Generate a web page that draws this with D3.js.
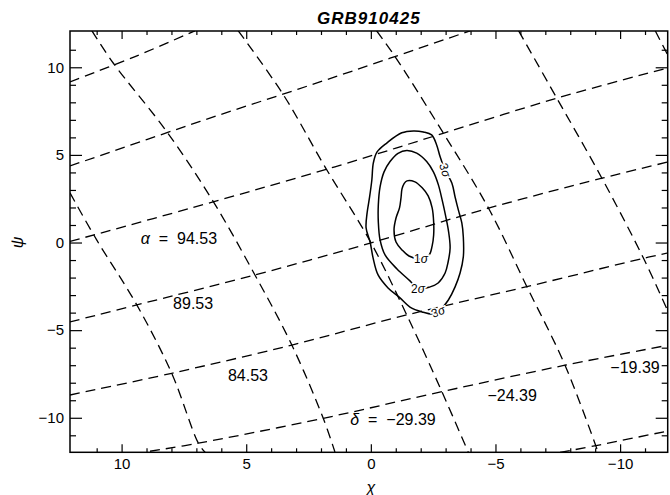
<!DOCTYPE html>
<html>
<head>
<meta charset="utf-8">
<script src="https://cdn.jsdelivr.net/npm/d3@7"></script>
<style>
body { margin: 0; background: #fff; }
svg text { font-family: "Liberation Sans", Arial, sans-serif; fill: #000; }
</style>
</head>
<body>
<svg id="chart"></svg>
<script>
const width = 670;
const height = 495;
const plotLeft = 70;
const plotRight = 667.7;
const plotTop = 31;
const plotBottom = 452.3;

// axes (chi runs right to left)
const chiDomain = [12.07, -11.91];
const psiDomain = [-11.97, 12.07];
const xTicks = [10, 5, 0, -5, -10];
const xTickLabels = ["10", "5", "0", "\u22125", "\u221210"];
const yTicks = [10, 5, 0, -5, -10];
const yTickLabels = ["10", "5", "0", "\u22125", "\u221210"];

// lines of constant right ascension, points as [chi, psi]
const alphaValues = [104.53, 99.53, 94.53, 89.53, 84.53, 79.53, 74.53];
const alphaLines = [
  [[12.07, 9.17], [9.46, 10.61], [7.06, 12.08]],
  [[12.07, 4.37], [6.85, 6.91], [1.44, 9.45], [-3.98, 12.08]],
  [[12.07, 0.06], [6.33, 2.32], [1.44, 4.32], [-2.9, 6.23], [-7.47, 8.24], [-11.93, 9.97]],
  [[12.07, -4.53], [9.39, -3.56], [4.65, -1.85], [-0.01, -0.02], [-4.72, 1.96], [-9.27, 3.67], [-11.93, 4.6]],
  [[12.07, -8.7], [7.99, -7.46], [3.17, -5.85], [-1.44, -4.13], [-6.26, -2.52], [-10.94, -0.9], [-11.93, -0.59]],
  [[8.86, -11.91], [6.92, -11.45], [1.91, -10.03], [-2.85, -8.51], [-7.79, -7.0], [-11.93, -5.86]],
  [[-7.59, -11.98], [-9.2, -11.54], [-11.93, -10.75]]
];

// lines of constant declination
const deltaValues = [-39.39, -34.39, -29.39, -24.39, -19.39, -14.39];
const deltaLines = [
  [[12.07, 2.83], [11.0, 0.15], [9.39, -3.56], [7.99, -7.46], [6.92, -11.45], [6.65, -11.97]],
  [[11.19, 12.08], [10.33, 10.23], [8.19, 6.33], [6.32, 2.33], [4.65, -1.85], [3.17, -5.85], [1.91, -10.03], [1.44, -11.95]],
  [[5.32, 12.08], [3.51, 8.43], [1.84, 4.32], [-0.01, -0.02], [-1.44, -4.13], [-2.85, -8.51], [-3.91, -11.97]],
  [[-0.23, 12.08], [-0.97, 10.61], [-2.91, 6.24], [-4.72, 1.96], [-6.26, -2.52], [-7.79, -7.0], [-9.12, -11.97]],
  [[-5.93, 12.08], [-7.46, 8.24], [-9.27, 3.67], [-10.94, -0.9], [-11.93, -3.96]],
  [[-11.41, 12.08], [-11.93, 10.65]]
];

// grid labels and where they sit, in chi/psi
const alphaLabels = ["94.53", "89.53", "84.53"];
const alphaLabelAt = [[7.7, 0.26], [7.13, -3.45], [4.93, -7.56]];
const deltaLabels = ["\u221229.39", "\u221224.39", "\u221219.39"];
const deltaLabelAt = [[-0.89, -10.12], [-5.67, -8.7], [-10.6, -7.15]];

// confidence contours
const sigmaNames = ["1", "2", "3"];
const sigma1 = [
  [-1.45, 3.52], [-1.77, 3.46], [-2.06, 3.12], [-2.3, 2.66], [-2.46, 1.98], [-2.52, 1.18],
  [-2.52, 0.43], [-2.46, -0.19], [-2.34, -0.71], [-2.01, -0.94], [-1.53, -0.77], [-1.25, -0.42],
  [-1.01, 0.03], [-0.93, 0.72], [-1.01, 1.4], [-1.15, 1.98], [-1.21, 2.55], [-1.25, 3.06], [-1.33, 3.35]
];
const sigma2 = [
  [-1.44, 5.25], [-1.84, 5.1], [-2.24, 4.62], [-2.51, 4.03], [-2.71, 3.29], [-2.86, 2.43],
  [-3.0, 1.52], [-3.12, 0.61], [-3.18, -0.31], [-3.1, -1.11], [-2.98, -1.74], [-2.7, -2.31],
  [-2.38, -2.53], [-1.89, -2.65], [-1.57, -2.19], [-1.05, -1.51], [-0.57, -0.71], [-0.37, 0.15],
  [-0.3, 1.18], [-0.3, 2.15], [-0.37, 3.17], [-0.53, 4.03], [-0.77, 4.62], [-1.09, 5.09]
];
const sigma3 = [
  [-2.5, -4.08], [-2.06, -3.96], [-1.57, -3.68], [-1.17, -3.16], [-0.69, -2.59], [-0.29, -1.85],
  [-0.09, -0.88], [0.03, 0.03], [0.19, 0.83], [0.15, 1.69], [0.05, 2.6], [-0.04, 3.57],
  [-0.1, 4.54], [-0.25, 5.17], [-0.65, 5.69], [-1.24, 6.26], [-1.71, 6.37], [-2.11, 6.31],
  [-2.44, 6.14], [-2.64, 5.57], [-2.78, 4.89], [-2.98, 4.13], [-3.25, 3.4], [-3.38, 2.6],
  [-3.51, 1.86], [-3.65, 1.12], [-3.71, 0.32], [-3.71, -0.82], [-3.58, -1.74], [-3.38, -2.53],
  [-3.11, -3.28], [-2.86, -3.73], [-2.7, -3.93]
];
const contours = [sigma1, sigma2, sigma3];
// which contour point carries a label
const contourLabels = [
  { level: 0, point: 9, angle: 0 },
  { level: 1, point: 13, angle: 0 },
  { level: 2, point: 21, angle: 72 },
  { level: 2, point: 32, angle: -22 }
];

let svg = d3.select("#chart").attr("width", width).attr("height", height);

const x = d3.scaleLinear().domain(chiDomain).range([plotLeft, plotRight]);
const y = d3.scaleLinear().domain(psiDomain).range([plotBottom, plotTop]);

svg.append("defs")
  .append("clipPath")
  .attr("id", "plot-clip")
  .append("rect")
  .attr("x", plotLeft)
  .attr("y", plotTop)
  .attr("width", plotRight - plotLeft)
  .attr("height", plotBottom - plotTop);

const gridLine = d3.line()
  .x(d => x(d[0]))
  .y(d => y(d[1]))
  .curve(d3.curveCatmullRom.alpha(0.5));

let grid = svg.append("g").attr("clip-path", "url(#plot-clip)");
grid.selectAll(".alpha")
  .data(alphaLines)
  .enter()
  .append("path")
  .classed("alpha", true)
  .attr("d", gridLine);
grid.selectAll(".delta")
  .data(deltaLines)
  .enter()
  .append("path")
  .classed("delta", true)
  .attr("d", gridLine);
grid.selectAll("path")
  .attr("fill", "none")
  .attr("stroke", "#000")
  .attr("stroke-width", 1.3)
  .attr("stroke-dasharray", "10,6");

// contours
const ringLine = d3.line()
  .x(d => x(d[0]))
  .y(d => y(d[1]))
  .curve(d3.curveCatmullRomClosed.alpha(0.5));

svg.append("g")
  .selectAll("path")
  .data(contours)
  .enter()
  .append("path")
  .attr("d", ringLine)
  .attr("fill", "none")
  .attr("stroke", "#000")
  .attr("stroke-width", 1.5);

let sigmaText = svg.append("g")
  .selectAll("text")
  .data(contourLabels)
  .enter()
  .append("text")
  .attr("transform", d => {
    let p = contours[d.level][d.point];
    return `translate(${x(p[0])},${y(p[1])}) rotate(${d.angle})`;
  })
  .attr("text-anchor", "middle")
  .attr("dy", "0.35em")
  .attr("font-size", 12)
  .style("stroke", "#fff")
  .style("stroke-width", 3)
  .style("paint-order", "stroke")
  .style("fill", "#000");
sigmaText.append("tspan").text(d => sigmaNames[d.level]);
sigmaText.append("tspan").attr("font-style", "italic").text("\u03c3");

// grid value labels
let alphaText = svg.append("g")
  .selectAll("text")
  .data(alphaLabels)
  .enter()
  .append("text")
  .attr("x", (d, i) => x(alphaLabelAt[i][0]))
  .attr("y", (d, i) => y(alphaLabelAt[i][1]))
  .attr("text-anchor", "middle")
  .attr("dy", "0.35em")
  .attr("font-size", 16)
  .style("white-space", "pre");
alphaText.filter((d, i) => i === 0)
  .append("tspan")
  .attr("font-style", "italic")
  .text("\u03b1");
alphaText.filter((d, i) => i === 0)
  .append("tspan")
  .text("  =  ");
alphaText.append("tspan").text(d => d);

let deltaText = svg.append("g")
  .selectAll("text")
  .data(deltaLabels)
  .enter()
  .append("text")
  .attr("x", (d, i) => x(deltaLabelAt[i][0]))
  .attr("y", (d, i) => y(deltaLabelAt[i][1]))
  .attr("text-anchor", "middle")
  .attr("dy", "0.35em")
  .attr("font-size", 16)
  .style("white-space", "pre");
deltaText.filter((d, i) => i === 0)
  .append("tspan")
  .attr("font-style", "italic")
  .text("\u03b4");
deltaText.filter((d, i) => i === 0)
  .append("tspan")
  .text("  =  ");
deltaText.append("tspan").text(d => d);

// axes, ticks pointing inward
const minorTicks = d3.range(-11, 12).filter(v => v % 5 !== 0);

function styleAxis(g) {
  g.select(".domain").remove();
  g.selectAll("line").attr("stroke", "#000").attr("stroke-width", 1.2);
  g.selectAll("text")
    .attr("font-size", 15)
    .attr("font-family", '"Liberation Sans", Arial, sans-serif');
}

svg.append("g")
  .attr("transform", `translate(0,${plotBottom})`)
  .call(d3.axisBottom(x).tickValues(xTicks).tickFormat((d, i) => xTickLabels[i]).tickSize(-8).tickPadding(6))
  .call(styleAxis);
svg.append("g")
  .attr("transform", `translate(0,${plotBottom})`)
  .call(d3.axisBottom(x).tickValues(minorTicks).tickFormat("").tickSize(-4))
  .call(styleAxis);
svg.append("g")
  .attr("transform", `translate(0,${plotTop})`)
  .call(d3.axisTop(x).tickValues(xTicks).tickFormat("").tickSize(-8))
  .call(styleAxis);
svg.append("g")
  .attr("transform", `translate(0,${plotTop})`)
  .call(d3.axisTop(x).tickValues(minorTicks).tickFormat("").tickSize(-4))
  .call(styleAxis);

svg.append("g")
  .attr("transform", `translate(${plotLeft},0)`)
  .call(d3.axisLeft(y).tickValues(yTicks).tickFormat((d, i) => yTickLabels[i]).tickSize(-12).tickPadding(6))
  .call(styleAxis);
svg.append("g")
  .attr("transform", `translate(${plotLeft},0)`)
  .call(d3.axisLeft(y).tickValues(minorTicks).tickFormat("").tickSize(-6))
  .call(styleAxis);
svg.append("g")
  .attr("transform", `translate(${plotRight},0)`)
  .call(d3.axisRight(y).tickValues(yTicks).tickFormat("").tickSize(-12))
  .call(styleAxis);
svg.append("g")
  .attr("transform", `translate(${plotRight},0)`)
  .call(d3.axisRight(y).tickValues(minorTicks).tickFormat("").tickSize(-6))
  .call(styleAxis);

svg.append("rect")
  .attr("x", plotLeft)
  .attr("y", plotTop)
  .attr("width", plotRight - plotLeft)
  .attr("height", plotBottom - plotTop)
  .attr("fill", "none")
  .attr("stroke", "#000")
  .attr("stroke-width", 1.5);

// title and axis names
svg.append("text")
  .attr("x", (plotLeft + plotRight) / 2)
  .attr("y", 24)
  .attr("text-anchor", "middle")
  .attr("font-family", '"DejaVu Serif", serif')
  .attr("font-weight", "bold")
  .attr("font-style", "italic")
  .attr("font-size", 17)
  .attr("letter-spacing", 1)
  .text("GRB910425");

svg.append("text")
  .attr("x", x(0))
  .attr("y", 487)
  .attr("text-anchor", "middle")
  .attr("dy", "0.35em")
  .attr("font-style", "italic")
  .attr("font-size", 16)
  .text("\u03c7");

svg.append("text")
  .attr("transform", `translate(17,${y(0)}) rotate(-90)`)
  .attr("text-anchor", "middle")
  .attr("dy", "0.35em")
  .attr("font-style", "italic")
  .attr("font-size", 16)
  .text("\u03c8");
</script>
</body>
</html>
